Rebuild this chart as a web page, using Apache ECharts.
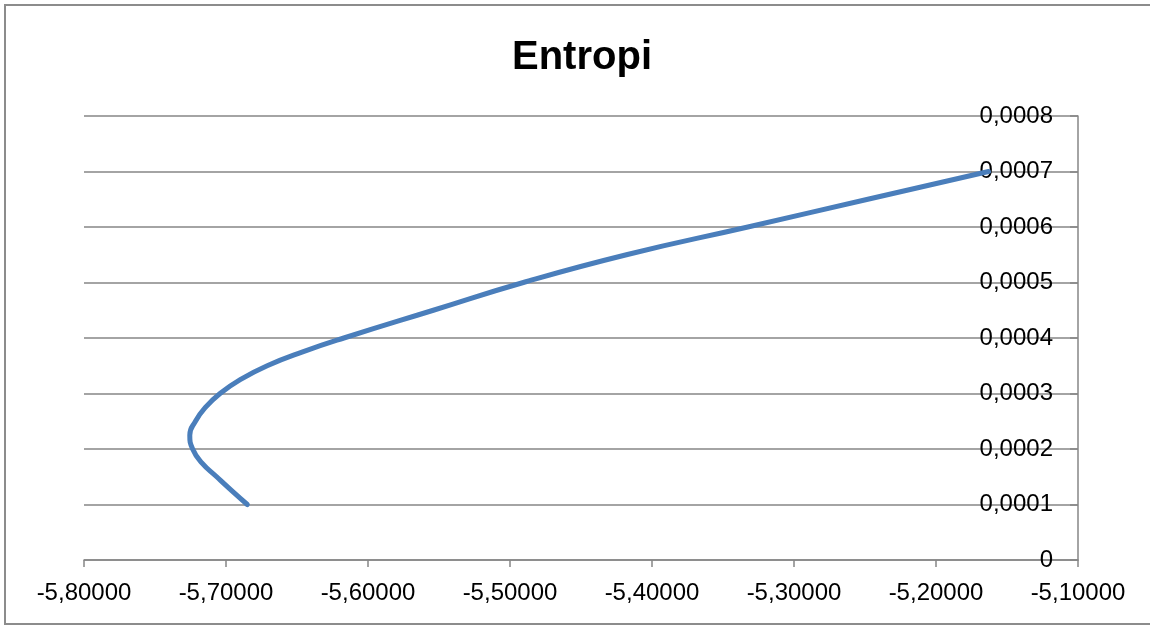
<!DOCTYPE html>
<html>
<head>
<meta charset="utf-8">
<title>Entropi</title>
<script src="https://cdn.jsdelivr.net/npm/echarts@6/dist/echarts.min.js"></script>
<style>
    html, body { margin: 0; padding: 0; background: #fff; }
    #chart { width: 1150px; height: 626px; }
</style>
</head>
<body>
<div id="chart"></div>
<script>
// 曲线数据
const entropiX = [-5.685, -5.696, -5.7066, -5.717, -5.7235, -5.7255, -5.7215, -5.7145, -5.7042,
    -5.690, -5.671, -5.646, -5.617, -5.554, -5.4906, -5.418, -5.3325, -5.248, -5.163];
const entropiY = [0.0001, 0.000125, 0.00015, 0.000175, 0.0002, 0.000225, 0.00025, 0.000275, 0.0003,
    0.000325, 0.00035, 0.000375, 0.0004, 0.00045, 0.0005, 0.00055, 0.0006, 0.00065, 0.0007];

// 坐标轴范围
const xMin = -5.8, xMax = -5.1, xStep = 0.1;
const yMin = 0, yMax = 0.0008, yStep = 0.0001;

const chart = echarts.init(document.getElementById('chart'));

const seriesData = entropiX.map((x, i) => [x, entropiY[i]]);

const gray = '#868686';
const labelFont = 'Liberation Sans, Arial, sans-serif';

const option = {
    backgroundColor: '#fff',
    animation: false,
    title: {
        text: 'Entropi',
        left: 577,
        top: 33,
        textAlign: 'center',
        textStyle: { fontFamily: labelFont, fontSize: 40, fontWeight: 'bold', color: '#000' }
    },
    graphic: [{
        type: 'rect',
        shape: { x: 5, y: 5, width: 1160, height: 619 },
        style: { fill: 'none', stroke: '#8c8c8c', lineWidth: 2 },
        silent: true
    }],
    grid: { left: 84, right: 72, top: 116, bottom: 66 },
    xAxis: {
        type: 'value',
        min: xMin,
        max: xMax,
        interval: xStep,
        splitLine: { show: false },
        axisLine: { onZero: false, lineStyle: { color: gray, width: 1.5 } },
        axisTick: { show: true, length: 7, lineStyle: { color: gray, width: 1.5 } },
        axisLabel: {
            margin: 21,
            fontFamily: labelFont,
            fontSize: 24,
            color: '#000',
            formatter: val => val.toFixed(5).replace('.', ',')
        }
    },
    yAxis: {
        type: 'value',
        position: 'right',
        min: yMin,
        max: yMax,
        interval: yStep,
        splitLine: { show: true, lineStyle: { color: gray, width: 1.5 } },
        axisLine: { show: true, onZero: false, lineStyle: { color: gray, width: 1.5 } },
        axisTick: { show: true, inside: true, length: 8, lineStyle: { color: gray, width: 1.5 } },
        axisLabel: {
            inside: true,
            margin: 25,
            fontFamily: labelFont,
            fontSize: 24,
            color: '#000',
            formatter: val => (val === 0 ? '0' : val.toFixed(4).replace('.', ','))
        }
    },
    series: [{
        name: 'Entropi',
        type: 'line',
        data: seriesData,
        smooth: 0.5,
        showSymbol: false,
        lineStyle: { color: '#4a7ebb', width: 5, cap: 'round', join: 'round' },
        z: 1
    }]
};

chart.setOption(option);
</script>
</body>
</html>
